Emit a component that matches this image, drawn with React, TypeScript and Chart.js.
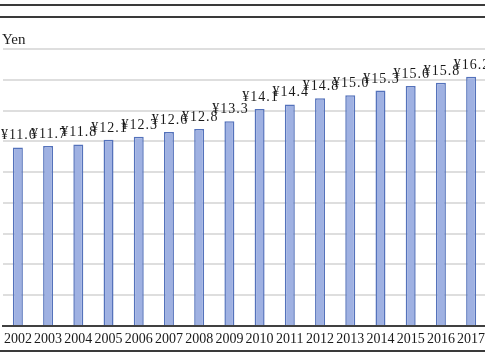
import React, { useEffect, useRef } from "react";
import { Chart, registerables } from "chart.js";

Chart.register(...registerables);

const years = ["2002", "2003", "2004", "2005", "2006", "2007", "2008", "2009", "2010", "2011", "2012", "2013", "2014", "2015", "2016", "2017"];
const wages = [11.6, 11.7, 11.8, 12.1, 12.3, 12.6, 12.8, 13.3, 14.1, 14.4, 14.8, 15.0, 15.3, 15.6, 15.8, 16.2];
const unitLabel = "Yen";
const yMax = 18;
const yStep = 2;

const SERIF = "'Liberation Serif', 'Times New Roman', serif";

const decorPlugin = {
  id: "decor",
  afterDraw(chart: any) {
    const ctx = chart.ctx;
    const w = chart.width;
    ctx.save();
    ctx.strokeStyle = "#3a3a3a";
    ctx.lineWidth = 2;
    [5, 17, 351].forEach((y) => {
      ctx.beginPath();
      ctx.moveTo(0, y);
      ctx.lineTo(w, y);
      ctx.stroke();
    });
    ctx.fillStyle = "#222";
    ctx.font = `15px ${SERIF}`;
    ctx.textBaseline = "alphabetic";
    ctx.textAlign = "left";
    ctx.fillText(unitLabel, 3, 44);
    ctx.restore();
  },
  afterDatasetsDraw(chart: any) {
    const ctx = chart.ctx;
    const meta = chart.getDatasetMeta(0);
    ctx.save();
    ctx.fillStyle = "#1a1a1a";
    ctx.font = `14px ${SERIF}`;
    (ctx as any).letterSpacing = "1px";
    ctx.textAlign = "center";
    ctx.textBaseline = "alphabetic";
    meta.data.forEach((bar: any, i: number) => {
      const v = chart.data.datasets[0].data[i] as number;
      ctx.fillText("¥" + v.toFixed(1), bar.x + 1, bar.y - 8);
    });
    ctx.restore();
  },
};

export default function App() {
  const ref = useRef<HTMLCanvasElement>(null);
  useEffect(() => {
    if (!ref.current) return;
    const chart = new Chart(ref.current, {
      type: "bar",
      data: {
        labels: years,
        datasets: [
          {
            data: wages,
            backgroundColor: "#9fb1e2",
            borderColor: "#5472bb",
            borderWidth: 1.5,
            barPercentage: 0.33,
            categoryPercentage: 1,
          },
        ],
      },
      options: {
        animation: false,
        responsive: true,
        maintainAspectRatio: false,
        layout: { padding: { top: 49, left: 0, right: 0, bottom: 0 } },
        plugins: { legend: { display: false }, tooltip: { enabled: false }, title: { display: false } },
        scales: {
          x: {
            grid: { display: false, drawTicks: false },
            border: { display: true, color: "#404040", width: 2 },
            ticks: { color: "#1a1a1a", font: { family: SERIF, size: 14 }, padding: 5, maxRotation: 0, autoSkip: false },
            afterFit: (s: any) => {
              s.height = 34;
            },
          },
          y: {
            min: 0,
            max: yMax,
            ticks: { display: false, stepSize: yStep },
            grid: { color: "#dedede", lineWidth: 2, drawTicks: false },
            border: { display: false },
            afterFit: (s: any) => {
              s.width = 0;
            },
          },
        },
      },
      plugins: [decorPlugin],
    });
    return () => chart.destroy();
  }, []);
  return (
    <div style={{ position: "fixed", left: 0, top: 0, width: 485, height: 360, overflow: "hidden", background: "#fff" }}>
      <div style={{ position: "absolute", left: -1, top: 0, width: 491, height: 360 }}>
        <canvas ref={ref} />
      </div>
    </div>
  );
}
